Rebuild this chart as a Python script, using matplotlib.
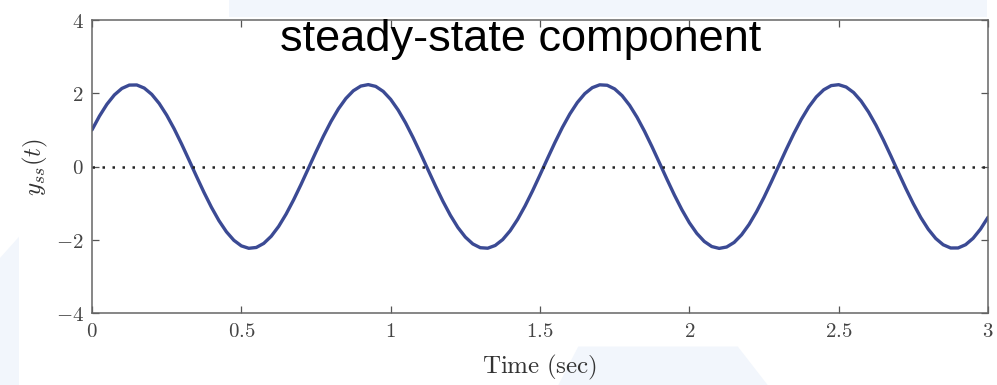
import numpy as np
import matplotlib
matplotlib.use("Agg")
import matplotlib.pyplot as plt
from matplotlib.patches import Polygon

# ---- data (time step 0.025 s) ----
t_start = 0.0
t_step = 0.025
y_ss = [
    1.000, 1.377, 1.700, 1.955, 2.131, 2.223, 2.226, 2.141, 1.970, 1.721,
    1.403, 1.030, 0.614, 0.174, -0.272, -0.708, -1.115, -1.478, -1.782, -2.015,
    -2.167, -2.233, -2.211, -2.100, -1.905, -1.635, -1.298, -0.911, -0.488, -0.044,
    0.401, 0.830, 1.226, 1.573, 1.857, 2.068, 2.196, 2.236, 2.187, 2.051,
    1.833, 1.542, 1.190, 0.790, 0.359, -0.087, -0.529, -0.950, -1.333, -1.664,
    -1.927, -2.114, -2.217, -2.231, -2.156, -1.996, -1.755, -1.445, -1.077, -0.667,
    -0.229, 0.217, 0.655, 1.067, 1.435, 1.747, 1.989, 2.152, 2.230, 2.218,
    2.118, 1.933, 1.671, 1.343, 0.961, 0.541, 0.099, -0.347, -0.779, -1.179,
    -1.534, -1.826, -2.046, -2.185, -2.236, -2.198, -2.073, -1.864, -1.582, -1.235,
    -0.842, -0.413, 0.031, 0.475, 0.900, 1.288, 1.626, 1.899, 2.095, 2.209,
    2.234, 2.170, 2.020, 1.789, 1.487, 1.126, 0.720, 0.285, -0.162, -0.602,
    -1.017, -1.393, -1.713, -1.965, -2.137, -2.225, -2.224, -2.135, -1.961, -1.708,
    -1.387,
]
x_ticks = [0, 0.5, 1, 1.5, 2, 2.5, 3]
x_tick_labels = ["0", "0.5", "1", "1.5", "2", "2.5", "3"]
y_ticks = [-4, -2, 0, 2, 4]
y_tick_labels = ["-4", "-2", "0", "2", "4"]
title_text = "steady-state component"

t = t_start + t_step * np.arange(len(y_ss))

plt.rcParams["mathtext.fontset"] = "cm"

fig = plt.figure(figsize=(9.97, 3.85), dpi=100)
fig.patch.set_facecolor("white")

# faint watermark shapes in the background
wm = "#f2f6fc"
for pts in [
    [(0.0, 0.0), (0.019, 0.0), (0.019, 0.385), (0.0, 0.33)],
    [(0.23, 1.0), (0.99, 1.0), (0.99, 0.955), (0.23, 0.955)],
    [(0.56, 0.0), (0.77, 0.0), (0.74, 0.10), (0.58, 0.10)],
]:
    fig.patches.append(Polygon(pts, closed=True, transform=fig.transFigure,
                               facecolor=wm, edgecolor="none", zorder=-10))

ax = fig.add_axes([92 / 997, 1 - 313 / 385, 896 / 997, 293 / 385])
ax.patch.set_alpha(0.0)

ax.plot(t, y_ss, color="#3b4a94", linewidth=2.4, solid_capstyle="round",
        solid_joinstyle="round")
ax.axhline(0, color="#222222", linestyle=(0, (1, 3.0)), linewidth=1.8)

ax.set_xlim(0, 3)
ax.set_ylim(-4, 4)
ax.set_xticks(x_ticks)
ax.set_xticklabels([f"${s}$" for s in x_tick_labels])
ax.set_yticks(y_ticks)
ax.set_yticklabels([f"${s}$" for s in y_tick_labels])

for sp in ax.spines.values():
    sp.set_color("#666666")
    sp.set_linewidth(1.1)
ax.tick_params(direction="in", length=5, width=0.9, color="#555555",
               labelcolor="#444444", labelsize=15, top=True, right=True, pad=6)

ax.set_xlabel(r"$\mathrm{Time\ (sec)}$", fontsize=18, color="#333333", labelpad=8)
ax.set_ylabel(r"$y_{ss}(t)$", fontsize=18, color="#333333", labelpad=4)

fig.text(521 / 997, 1 - 40 / 385, title_text, fontsize=32.5, family="Liberation Sans",
         color="black", ha="center", va="center")

fig.savefig("out.png", dpi=100)
